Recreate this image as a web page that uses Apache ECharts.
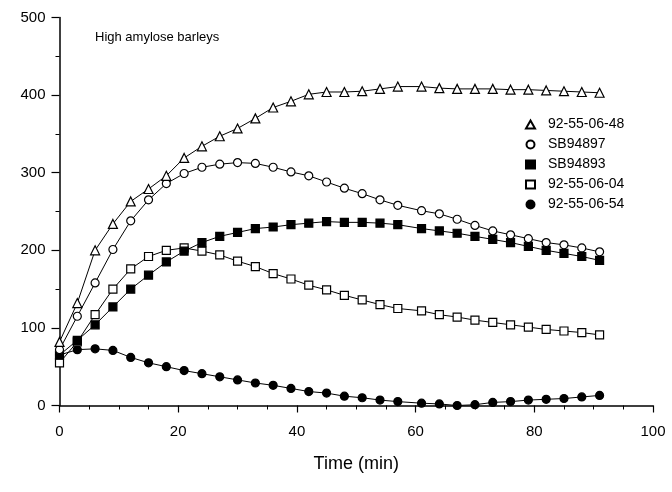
<!DOCTYPE html>
<html>
<head>
<meta charset="utf-8">
<script src="https://cdn.jsdelivr.net/npm/echarts@6/dist/echarts.min.js"></script>
<style>
  html, body { margin: 0; padding: 0; background: #fff; }
  #chart { width: 672px; height: 492px; }
</style>
</head>
<body>
<div id="chart"></div>
<script>
// Sampling times (min)
const times = [0, 3, 6, 9, 12, 15, 18, 21, 24, 27, 30, 33, 36, 39, 42, 45, 48, 51, 54, 57,
               61, 64, 67, 70, 73, 76, 79, 82, 85, 88, 91];

// Viscosity traces for each line
const line_92_55_06_48 = [82, 132, 200, 234, 263, 279, 296, 319, 334, 347, 357, 370, 384, 392, 401, 404, 404, 405, 408, 411,
                          411, 409, 408, 408, 408, 407, 407, 406, 405, 404, 403];
const line_SB94897 = [72, 115, 158, 201, 238, 265, 286, 299, 307, 311, 313, 312, 307, 301, 296, 288, 280, 273, 265, 258,
                      251, 247, 240, 232, 225, 220, 215, 210, 207, 203, 198];
const line_SB94893 = [65, 84, 104, 127, 150, 168, 185, 199, 210, 218, 223, 228, 230, 233, 235, 237, 236, 236, 235, 233,
                      228, 225, 222, 218, 214, 210, 205, 200, 196, 192, 187];
const line_92_55_06_04 = [55, 82, 117, 150, 176, 192, 200, 203, 199, 194, 186, 179, 170, 163, 155, 149, 142, 136, 130, 125,
                          122, 117, 114, 110, 107, 104, 101, 98, 96, 94, 91];
const line_92_55_06_54 = [65, 72, 73, 71, 62, 55, 50, 45, 41, 37, 33, 29, 26, 22, 18, 16, 12, 10, 7, 5,
                          3, 2, 0, 1, 4, 5, 7, 8, 9, 11, 13];

const seriesNames = ['92-55-06-48', 'SB94897', 'SB94893', '92-55-06-04', '92-55-06-54'];
const chartTitle = 'High amylose barleys';
const xAxisTitle = 'Time (min)';

const FONT = 'Arial, "Liberation Sans", sans-serif';

function pairs(values) {
  return times.map((t, i) => [t, values[i]]);
}

function makeSeries(name, values, symbol, size, filled) {
  return {
    name: name,
    type: 'line',
    data: pairs(values),
    symbol: symbol,
    symbolSize: size,
    showSymbol: true,
    animation: false,
    lineStyle: { color: '#000', width: 1 },
    itemStyle: { color: filled ? '#000' : '#fff', borderColor: '#000', borderWidth: 1.2 }
  };
}

// Drawing order: later series sit on top
const seriesList = [
  makeSeries(seriesNames[4], line_92_55_06_54, 'circle', 8, true),
  makeSeries(seriesNames[3], line_92_55_06_04, 'rect', 8, false),
  makeSeries(seriesNames[2], line_SB94893, 'rect', 8, true),
  makeSeries(seriesNames[1], line_SB94897, 'circle', 8, false),
  makeSeries(seriesNames[0], line_92_55_06_48, 'triangle', 9, false)
];

const legendIcons = ['triangle', 'circle', 'rect', 'rect', 'circle'];

const chart = echarts.init(document.getElementById('chart'), null, { renderer: 'canvas' });
chart.setOption({
  backgroundColor: '#fff',
  animation: false,
  title: {
    text: chartTitle,
    left: 95,
    top: 31,
    padding: 0,
    textStyle: { fontFamily: FONT, fontSize: 13, fontWeight: 'normal', color: '#000' }
  },
  legend: {
    orient: 'vertical',
    left: 525,
    top: 117,
    padding: 0,
    itemWidth: 9,
    itemHeight: 8,
    itemGap: 5,
    data: seriesNames.map((n, i) => ({ name: n, icon: legendIcons[i] })),
    textStyle: { fontFamily: FONT, fontSize: 14, color: '#000', lineHeight: 15, padding: [0, 0, 0, 8] }
  },
  grid: { left: 59.5, right: 19, top: 17.5, bottom: 86.5 },
  xAxis: {
    type: 'value',
    min: 0,
    max: 100,
    interval: 20,
    name: xAxisTitle,
    nameLocation: 'middle',
    nameGap: 50,
    nameTextStyle: { fontFamily: FONT, fontSize: 18, color: '#000' },
    axisLine: { lineStyle: { color: '#000', width: 1.5 } },
    axisTick: { inside: false, length: 7, lineStyle: { color: '#000', width: 1.2 } },
    minorTick: { show: true, splitNumber: 4, length: 4, lineStyle: { color: '#000', width: 1 } },
    splitLine: { show: false },
    axisLabel: { fontFamily: FONT, fontSize: 15, color: '#000', margin: 19 }
  },
  yAxis: {
    type: 'value',
    min: 0,
    max: 500,
    interval: 100,
    axisLine: { show: true, lineStyle: { color: '#000', width: 1.5 } },
    axisTick: { show: true, inside: false, length: 8, lineStyle: { color: '#000', width: 1.2 } },
    minorTick: { show: true, splitNumber: 2, length: 4, lineStyle: { color: '#000', width: 1 } },
    splitLine: { show: false },
    axisLabel: { fontFamily: FONT, fontSize: 15, color: '#000', margin: 14 }
  },
  series: seriesList
});
</script>
</body>
</html>
